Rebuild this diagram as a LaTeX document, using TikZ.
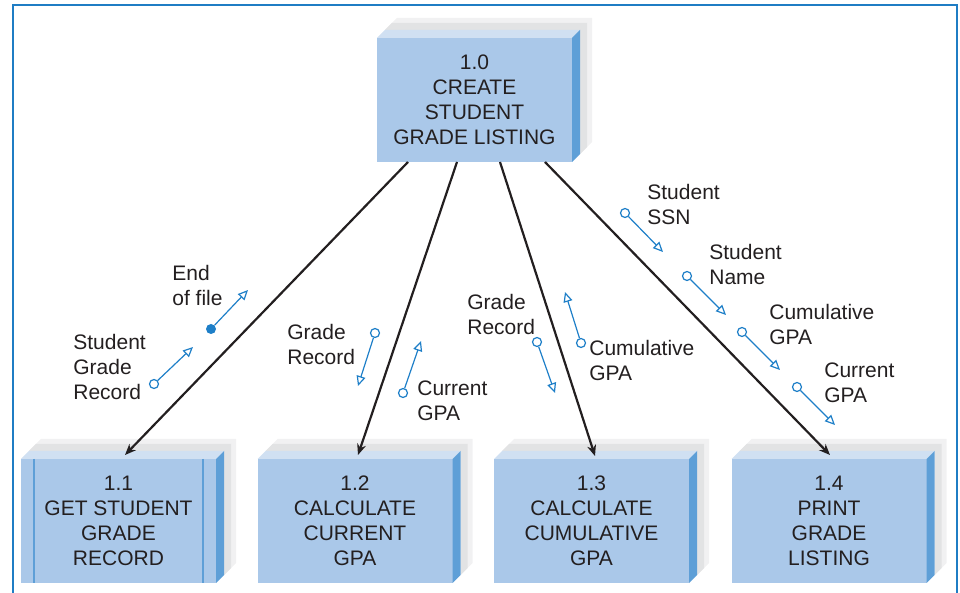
\documentclass[tikz,border=0pt]{standalone}
\usepackage{fontspec}
\setmainfont{Liberation Sans}
\usetikzlibrary{
arrows.meta,
calc
}
\definecolor{ModFace}{HTML}{AAC8E9}
\definecolor{ModTop}{HTML}{D0E0F2}
\definecolor{ModSide}{HTML}{5E9FD7}
\definecolor{ModShadow}{HTML}{E2E3E4}
\definecolor{ModHalo}{HTML}{F1F1F2}
\definecolor{FrameBlue}{HTML}{1F7DC4}
\definecolor{CoupleBlue}{HTML}{1E7FC8}
\definecolor{InkGray}{HTML}{231F20}

\begin{document}
\begin{tikzpicture}[x=0.5pt, y=-0.5pt,
module/.style={rectangle, fill=ModFace, minimum width=97.5pt, minimum height=62pt, inner sep=0pt, outer sep=0pt, align=center, text=InkGray, font=\fontsize{10.5}{12.5}\selectfont},
datalabel/.style={anchor=west, align=left, inner sep=0pt, text=InkGray, font=\fontsize{10.5}{12.5}\selectfont},
couple/.style={circle, draw=CoupleBlue, fill=white, line width=0.6pt, inner sep=0pt, minimum size=4.5pt},
flag/.style={circle, fill=CoupleBlue, inner sep=0pt, minimum size=5pt},
dataflow/.style={CoupleBlue, line width=0.6pt, -{Triangle[open, fill=white, length=5pt, width=4.5pt]}},
call/.style={InkGray, line width=1.1pt, -{Stealth[length=5.5pt, width=4.5pt]}}]
\useasboundingbox (0,0) rectangle (960,593);
\draw[FrameBlue, line width=1.1pt] (13,610) -- (13,5) -- (957,5) -- (957,610);
\node[module] (top) at (474.5,100) {1.0\\CREATE\\STUDENT\\GRADE LISTING};
\node[module] (m1) at (118.5,521) {1.1\\GET STUDENT\\GRADE\\RECORD};
\node[module] (m2) at (355,521) {1.2\\CALCULATE\\CURRENT\\GPA};
\node[module] (m3) at (591.5,521) {1.3\\CALCULATE\\CUMULATIVE\\GPA};
\node[module] (m4) at (829,521) {1.4\\PRINT\\GRADE\\LISTING};
\foreach \n in {top,m1,m2,m3,m4}{
  \fill[ModHalo] ($(\n.north west)+(8,-8)$) -- ($(\n.north west)+(20,-20)$) -- ($(\n.north east)+(20,-20)$) -- ($(\n.south east)+(20,-20)$) -- ($(\n.south east)+(8,-8)$) -- ($(\n.north east)+(8,-8)$) -- cycle;
  \fill[ModShadow] ($(\n.north west)+(8,-8)$) -- ($(\n.north west)+(15,-15)$) -- ($(\n.north east)+(15,-15)$) -- ($(\n.south east)+(15,-15)$) -- ($(\n.south east)+(8,-8)$) -- ($(\n.north east)+(8,-8)$) -- cycle;
  \fill[ModTop] (\n.north west) -- ($(\n.north west)+(8,-8)$) -- ($(\n.north east)+(8,-8)$) -- (\n.north east) -- cycle;
  \fill[ModSide] (\n.north east) -- ($(\n.north east)+(8,-8)$) -- ($(\n.south east)+(8,-8)$) -- (\n.south east) -- cycle;
}
\draw[ModSide, line width=0.6pt] ($(m1.north west)+(13,0)$) -- ($(m1.south west)+(13,0)$);
\draw[ModSide, line width=0.6pt] ($(m1.north east)+(-13,0)$) -- ($(m1.south east)+(-13,0)$);
\draw[call] ($(top.south)+(-66.5,0)$) -- ($(m1.north)+(6.5,-4)$);
\draw[call] ($(top.south)+(-17.5,0)$) -- ($(m2.north)+(3,-4)$);
\draw[call] ($(top.south)+(25.5,0)$) -- ($(m3.north)+(3.5,-3)$);
\draw[call] ($(top.south)+(70.5,0)$) -- ($(m4.north)+(1,-4)$);
\node[couple] (sgr) at (154,384) {};
\coordinate (sgrtip) at (193,347);
\draw[dataflow] (sgr) -- (sgrtip);
\node[datalabel] (lsgr) at (73,367) {Student\\Grade\\Record};
\node[flag] (eof) at (211,329) {};
\coordinate (eoftip) at (248,290);
\draw[dataflow] (eof) -- (eoftip);
\node[datalabel] (leof) at (172,285.5) {End\\of file};
\node[couple] (gr2) at (375,333) {};
\coordinate (gr2tip) at (358,386);
\draw[dataflow] (gr2) -- (gr2tip);
\node[datalabel] (lgr2) at (287,344) {Grade\\Record};
\node[couple] (cur2) at (403,393) {};
\coordinate (cur2tip) at (421,341);
\draw[dataflow] (cur2) -- (cur2tip);
\node[datalabel] (lcur2) at (417,400.5) {Current\\GPA};
\node[couple] (gr3) at (537,342) {};
\coordinate (gr3tip) at (555,393);
\draw[dataflow] (gr3) -- (gr3tip);
\node[datalabel] (lgr3) at (467,314.5) {Grade\\Record};
\node[couple] (cum3) at (581,343) {};
\coordinate (cum3tip) at (565,292);
\draw[dataflow] (cum3) -- (cum3tip);
\node[datalabel] (lcum3) at (589,360.5) {Cumulative\\GPA};
\node[couple] (ssn) at (625,213) {};
\coordinate (ssntip) at (663,252);
\draw[dataflow] (ssn) -- (ssntip);
\node[datalabel] (lssn) at (647,204.5) {Student\\SSN};
\node[couple] (name) at (687,276) {};
\coordinate (nametip) at (726,315);
\draw[dataflow] (name) -- (nametip);
\node[datalabel] (lname) at (709,264) {Student\\Name};
\node[couple] (cum4) at (742,332) {};
\coordinate (cum4tip) at (780,370);
\draw[dataflow] (cum4) -- (cum4tip);
\node[datalabel] (lcum4) at (769,324) {Cumulative\\GPA};
\node[couple] (cur4) at (797,387) {};
\coordinate (cur4tip) at (835,425);
\draw[dataflow] (cur4) -- (cur4tip);
\node[datalabel] (lcur4) at (824,382.5) {Current\\GPA};
\end{tikzpicture}
\end{document}
